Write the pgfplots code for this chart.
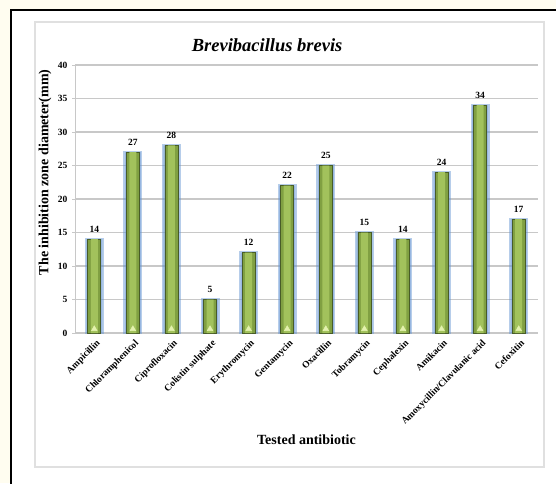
\documentclass[border=0pt]{standalone}
\usepackage{fontspec}
\setmainfont{Liberation Serif}
\usepackage{pgfplots}
\usepackage{pgfplotstable}
\pgfplotsset{compat=1.18}

\definecolor{barmid}{RGB}{128,160,66}
\definecolor{barlight}{RGB}{162,194,92}
\definecolor{barrim}{RGB}{72,92,40}
\definecolor{glow}{RGB}{95,145,210}
\definecolor{gridgray}{RGB}{200,200,200}
\definecolor{cream}{RGB}{255,253,240}
\definecolor{tipcol}{RGB}{228,242,175}

% inhibition zone diameter (mm) per antibiotic
\pgfplotstableread{
idx value
0 14
1 27
2 28
3 5
4 12
5 22
6 25
7 15
8 14
9 24
10 34
11 17
}\zonedata

\begin{document}
\begin{tikzpicture}[x=1pt,y=1pt]
\useasboundingbox (0,0) rectangle (556,483);
\fill[cream] (0,0) rectangle (556,483);
\fill[white] (11,0) rectangle (556,473);
\draw[line width=1.8pt] (11,-3) -- (11,473) -- (559,473);
\draw[black!12, line width=1.4pt] (35,16) rectangle (544,461);

\begin{axis}[
  at={(75pt,150pt)}, anchor=south west,
  scale only axis, width=463pt, height=268pt,
  xmin=-0.5, xmax=11.5, ymin=0, ymax=40,
  ytick={0,5,...,40},
  xtick={0,...,11},
  xticklabels={Ampicillin,Chloramphenicol,Ciprofloxacin,Colistin sulphate,Erythromycin,Gentamycin,Oxacillin,Tobramycin,Cephalexin,Amikacin,Amoxycillin/Clavulanic acid,Cefoxitin},
  minor xtick={-0.5,0.5,...,11.5},
  xtick style={draw=none},
  minor x tick style={gridgray, line width=0.8pt},
  ytick style={gridgray, line width=0.8pt},
  major tick length=3pt, minor tick length=3pt,
  tick align=outside,
  axis x line*=bottom, axis y line*=left,
  axis line style={gridgray, line width=1pt},
  ymajorgrids, grid style={gridgray, line width=1.2pt},
  /pgf/number format/assume math mode=true,
  yticklabel style={font=\bfseries\fontsize{9.5}{11}\selectfont, xshift=-1pt},
  xticklabel style={font=\bfseries\fontsize{9.5}{11}\selectfont, rotate=45, anchor=north east, inner sep=1pt, yshift=-2pt},
  title={\bfseries\itshape Brevibacillus brevis},
  title style={at={(axis description cs:0.415,1.05)}, anchor=center, font=\fontsize{18.5}{22}\selectfont},
  ylabel={The inhibition zone diameter(mm)},
  ylabel style={at={(axis description cs:-0.065,0.6)}, anchor=center, rotate=0, font=\bfseries\fontsize{14}{16}\selectfont},
  xlabel={Tested antibiotic},
  xlabel style={at={(axis description cs:0.5,-0.40)}, anchor=center, font=\bfseries\fontsize{14}{16}\selectfont},
]
% soft blue halo behind each bar
\addplot[ybar, bar width=16pt, bar shift=0pt,
  draw=glow, draw opacity=0.45, line width=3pt, fill=glow, fill opacity=0.35]
  table[x=idx, y=value]{\zonedata};
% bar body with dark rim
\addplot[ybar, bar width=13pt, bar shift=0pt,
  draw=barrim, line width=0.7pt, fill=barmid,
  nodes near coords,
  every node near coord/.append style={font=\bfseries\fontsize{9.5}{11}\selectfont, text=black, yshift=3pt}]
  table[x=idx, y=value]{\zonedata};
% lighter centre strip
\addplot[ybar, bar width=7pt, bar shift=0pt,
  draw=none, fill=barlight]
  table[x=idx, y=value]{\zonedata};
% small bevel triangle at the foot of each bar
\addplot[only marks, mark=triangle*, mark size=3.3pt,
  mark options={fill=tipcol, draw=tipcol}]
  table[x=idx, y expr=0.6]{\zonedata};
\end{axis}
\end{tikzpicture}
\end{document}
